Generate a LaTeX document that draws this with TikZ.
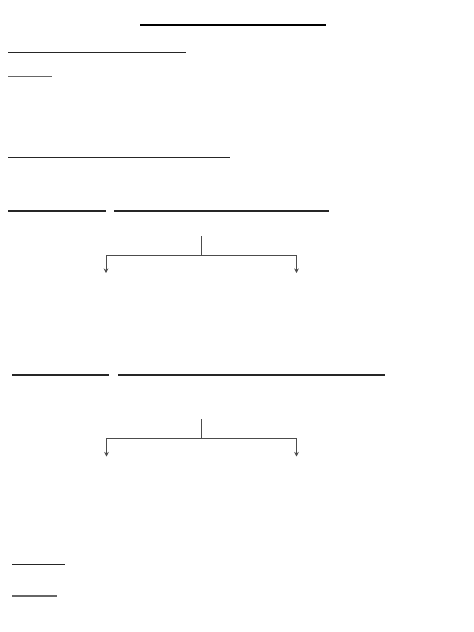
\documentclass[tikz,border=0pt]{standalone}
\usetikzlibrary{arrows.meta}
\begin{document}
\begin{tikzpicture}[x=1pt,y=-1pt,
  rule/.style={line width=1.3pt,draw=black!85},
  lightrule/.style={line width=1.2pt,draw=black!60},
  toprule/.style={line width=2.2pt,draw=black},
  branch/.style={line width=0.7pt,draw=black!70},
  tip/.style={-{Stealth[length=4.5pt,width=4.5pt]}}]
\useasboundingbox[fill=white] (0,0) rectangle (474,632);
% rules
\draw[toprule] (140,25) -- (326,25);
\draw[rule] (8,52.5) -- (186,52.5);
\draw[lightrule] (8,76.3) -- (52,76.3);
\draw[rule] (8,157.5) -- (230,157.5);
\draw[rule] (8,211) -- (106,211);
\draw[rule] (114,211) -- (329,211);
\draw[rule] (12,375) -- (109,375);
\draw[rule] (118,375) -- (385,375);
\draw[rule] (12,564.5) -- (65,564.5);
\draw[lightrule] (12,596) -- (57,596);
% tree 1
\coordinate (r1) at (201,236);
\coordinate (j1) at (201,255.5);
\coordinate (l1) at (106,255.5);
\coordinate (q1) at (296.5,255.5);
\coordinate (la1) at (106,273);
\coordinate (ra1) at (296.5,273);
\draw[branch] (r1) -- (j1);
\draw[branch] (l1) -- (q1);
\draw[branch,tip] (l1) -- (la1);
\draw[branch,tip] (q1) -- (ra1);
% tree 2
\coordinate (r2) at (201.5,419);
\coordinate (j2) at (201.5,438);
\coordinate (l2) at (106.5,438);
\coordinate (q2) at (296.5,438);
\coordinate (la2) at (106.5,456.5);
\coordinate (ra2) at (296.5,456.5);
\draw[branch] (r2) -- (j2);
\draw[branch] (l2) -- (q2);
\draw[branch,tip] (l2) -- (la2);
\draw[branch,tip] (q2) -- (ra2);
\end{tikzpicture}
\end{document}
